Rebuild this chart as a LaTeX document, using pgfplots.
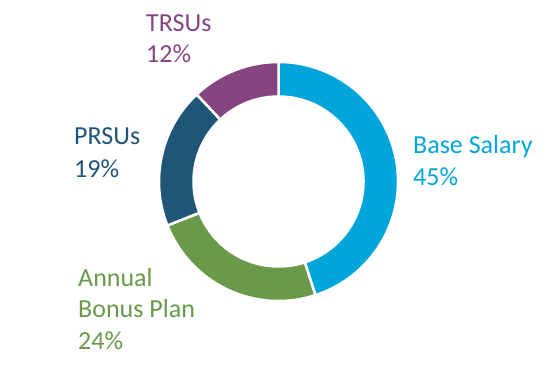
\documentclass[border=0pt]{standalone}
\usepackage{pgfplots}
\pgfplotsset{compat=1.18}
\usepackage{fontspec}
\setmainfont{Carlito}
\definecolor{cBase}{RGB}{0,166,218}
\definecolor{cBonus}{RGB}{106,153,74}
\definecolor{cPRSU}{RGB}{31,85,118}
\definecolor{cTRSU}{RGB}{134,69,128}
\tikzset{lbl/.style={font=\fontsize{26.1pt}{31pt}\selectfont,inner sep=0pt,anchor=base west}}
% segment: color, cumulative start (%), value (%)
\newcommand\seg[3]{%
  \pgfmathsetmacro\aS{90-3.6*#2}%
  \pgfmathsetmacro\aE{90-3.6*(#2+#3)}%
  \edef\doit{\noexpand\fill[#1,draw=white,line width=2.5bp]
    ([shift={(\aS:119.5bp)}]axis cs:278.5,182.5)
    arc[start angle=\aS,end angle=\aE,radius=119.5bp]
    -- ([shift={(\aE:85bp)}]axis cs:278.5,182.5)
    arc[start angle=\aE,end angle=\aS,radius=85bp] -- cycle;}%
  \doit}
\begin{document}
\begin{tikzpicture}
\begin{axis}[x=1bp,y=1bp,xmin=0,xmax=556,ymin=0,ymax=364,hide axis,clip=false]
\path (axis cs:0,0) rectangle (axis cs:556,364);
\seg{cBase}{0}{45}
\seg{cBonus}{45}{24}
\seg{cPRSU}{69}{19}
\seg{cTRSU}{88}{12}
\node[lbl,text=cTRSU] at (axis cs:146,333) {TRSUs};
\node[lbl,text=cTRSU] at (axis cs:146,302) {12\%};
\node[lbl,text=cPRSU] at (axis cs:74,220) {PRSUs};
\node[lbl,text=cPRSU] at (axis cs:74,187) {19\%};
\node[lbl,text=cBase] at (axis cs:413,211) {Base Salary};
\node[lbl,text=cBase] at (axis cs:413,179) {45\%};
\node[lbl,text=cBonus] at (axis cs:78,78) {Annual};
\node[lbl,text=cBonus] at (axis cs:78,47) {Bonus Plan};
\node[lbl,text=cBonus] at (axis cs:78,15) {24\%};
\end{axis}
\end{tikzpicture}
\end{document}
